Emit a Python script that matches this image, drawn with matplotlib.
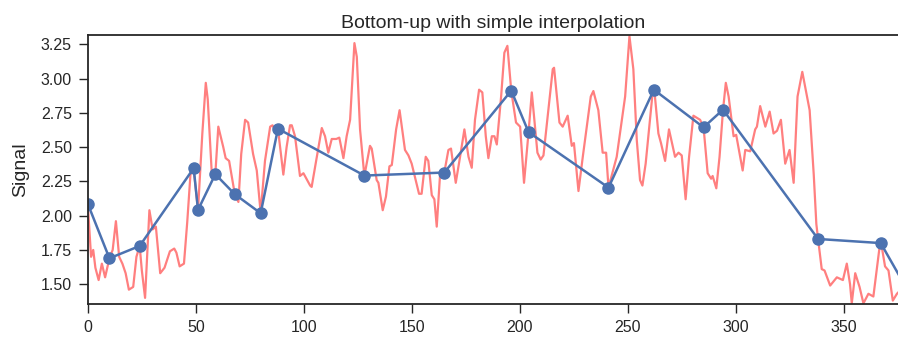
import numpy as np
import matplotlib
matplotlib.use('Agg')
import matplotlib.pyplot as plt

# signal (turning points)
sig_x = [0, 1.5, 2.5, 3.5, 5, 6.5, 8, 10, 11.5, 13, 14.5, 16, 17.5, 19, 21, 22.5, 24, 25, 26.5,
         28.5, 30, 31.5, 33.5, 35.5, 38, 40, 41, 42.5, 44.5, 46, 47.5, 49, 51, 53, 54.6, 55.5,
         57.3, 59, 60.4, 62.7, 63.8, 65.4, 66.5, 68, 69.7, 71, 72.8, 74.2, 76.5, 78.2, 80,
         82, 84.4, 85.5, 86.7, 88, 90.5, 92, 93.6, 94.4, 95.9, 98.2, 99.8, 102.9, 103.6, 106,
         108.3, 109.8, 111.3, 112.9, 115, 116.4, 118.3, 119.8, 121.4, 123.4, 124.5, 126, 128,
         130.6, 131.4, 133.7, 134.5, 136.5, 138, 139.6, 140.7, 142.7, 144.3, 146.8, 148.4,
         149.9, 153.3, 154.5, 156.4, 157.6, 159.2, 160.4, 161.5, 163, 165, 166.9, 168.1, 170.3,
         172.3, 174.3, 176.2, 177.7, 179.2, 181.1, 182.6, 184.2, 185.4, 187, 188.2, 189.3,
         191.3, 192.8, 194.2, 196, 198.2, 200.1, 201.9, 204, 205.5, 208.1, 209.6, 210.9, 213,
         215.2, 215.8, 218.3, 219.8, 222.1, 224, 225, 227.1, 229.1, 232.8, 234, 236.3, 238.3,
         239.9, 241, 244.8, 248.7, 250.7, 252.5, 254.1, 255.6, 256.7, 258.2, 261.5, 262.5,
         264.1, 265.3, 267.2, 269, 271.8, 273.4, 274.9, 276.7, 278.3, 280.3, 283.4, 285, 286.9,
         288.5, 289.2, 290.9, 292.4, 294, 295.3, 296.6, 298.9, 300.1, 303.1, 304.3, 306.6,
         308.9, 309.7, 311.2, 313.6, 315.6, 317.4, 319, 320.8, 322.8, 324.8, 326.7, 328.5,
         330.7, 334.1, 336, 337.2, 338, 339.7, 341, 343.6, 346.7, 349.5, 351.3, 352.8, 353.6,
         355.2, 357.2, 359, 361.3, 363.6, 366.7, 367.2, 369, 370.6, 372.6, 374.5, 377, 380]
sig_y = [2.08, 1.70, 1.75, 1.62, 1.53, 1.65, 1.55, 1.69, 1.75, 1.96, 1.70, 1.65, 1.58, 1.46,
         1.48, 1.70, 1.78, 1.60, 1.40, 2.04, 1.90, 1.92, 1.58, 1.62, 1.74, 1.76, 1.73, 1.63,
         1.65, 1.95, 2.30, 2.34, 2.04, 2.60, 2.97, 2.85, 2.33, 2.30, 2.65, 2.50, 2.42, 2.40,
         2.30, 2.16, 2.10, 2.45, 2.70, 2.68, 2.45, 2.33, 2.02, 2.40, 2.65, 2.66, 2.62, 2.635,
         2.30, 2.50, 2.66, 2.66, 2.58, 2.29, 2.31, 2.22, 2.21, 2.43, 2.64, 2.58, 2.46, 2.56,
         2.56, 2.57, 2.42, 2.58, 2.70, 3.26, 3.16, 2.63, 2.29, 2.51, 2.49, 2.26, 2.24, 2.04,
         2.14, 2.36, 2.37, 2.63, 2.77, 2.48, 2.44, 2.38, 2.16, 2.16, 2.43, 2.40, 2.15, 2.12,
         1.92, 2.29, 2.315, 2.48, 2.49, 2.24, 2.43, 2.63, 2.43, 2.35, 2.70, 2.92, 2.90, 2.58,
         2.42, 2.58, 2.58, 2.52, 2.87, 3.19, 3.24, 2.91, 2.68, 2.65, 2.24, 2.61, 2.90, 2.46,
         2.41, 2.44, 2.75, 3.07, 3.08, 2.68, 2.65, 2.73, 2.51, 2.53, 2.18, 2.43, 2.87, 2.91,
         2.77, 2.46, 2.46, 2.205, 2.43, 2.87, 3.31, 3.07, 2.55, 2.26, 2.22, 2.38, 2.91, 2.87,
         2.60, 2.53, 2.40, 2.63, 2.43, 2.46, 2.44, 2.12, 2.43, 2.73, 2.70, 2.645, 2.31, 2.27,
         2.29, 2.20, 2.43, 2.77, 2.97, 2.87, 2.58, 2.59, 2.33, 2.48, 2.47, 2.63, 2.65, 2.80,
         2.65, 2.76, 2.60, 2.62, 2.70, 2.38, 2.48, 2.24, 2.87, 3.05, 2.77, 2.30, 1.94, 1.83,
         1.61, 1.60, 1.49, 1.55, 1.53, 1.65, 1.50, 1.36, 1.58, 1.48, 1.36, 1.43, 1.41, 1.80,
         1.80, 1.63, 1.60, 1.38, 1.43, 1.47, 1.44]

# segment end points
seg_x = [0, 10, 24, 49, 51, 59, 68, 80, 88, 128, 165, 196, 204, 241, 262, 285, 294, 338, 367, 380]
seg_y = [2.086, 1.689, 1.779, 2.347, 2.042, 2.303, 2.157, 2.018, 2.635, 2.293, 2.315, 2.913,
         2.61, 2.205, 2.92, 2.645, 2.774, 1.83, 1.80, 1.44]

plt.rcParams['font.family'] = ['Liberation Sans', 'DejaVu Sans']

fig = plt.figure(figsize=(8.98, 3.42), dpi=100)
ax = fig.add_axes([0.0978, 0.111, 0.9022, 0.787])

ax.plot(sig_x, sig_y, color='red', alpha=0.5, lw=1.6)
ax.plot(seg_x, seg_y, color='#4c72b0', lw=1.8, marker='o', ms=8)

ax.set_xlim(0, 375)
ax.set_ylim(1.355, 3.32)
ax.set_xticks(np.arange(0, 351, 50))
ax.set_yticks(np.arange(1.5, 3.26, 0.25))
ax.set_yticklabels(['%.2f' % v for v in np.arange(1.5, 3.26, 0.25)])
ax.set_title('Bottom-up with simple interpolation', fontsize=14, color='#262626', pad=5)
ax.set_ylabel('Signal', fontsize=14, color='#262626', labelpad=8)
ax.tick_params(direction='out', length=6.5, width=1, pad=5, labelsize=11.5, colors='#262626')
for s in ax.spines.values():
    s.set_color('#262626')
    s.set_linewidth(1.3)
ax.spines['right'].set_visible(False)

fig.savefig('out.png', dpi=100)
